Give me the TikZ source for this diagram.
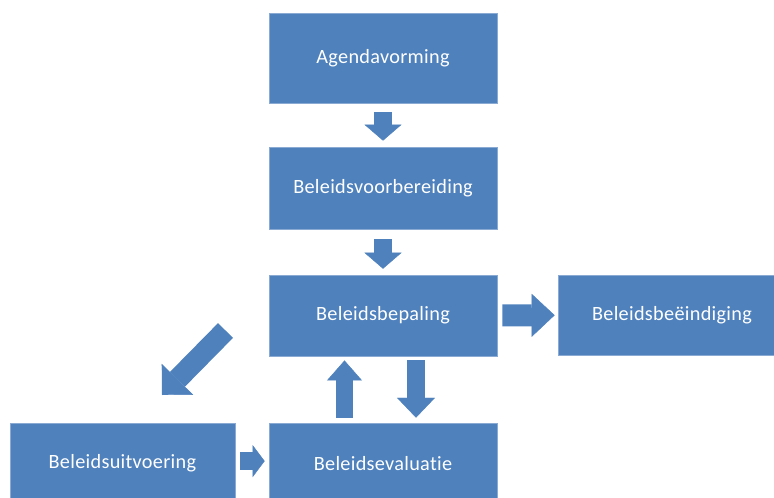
\documentclass[tikz,border=0pt]{standalone}
\usepackage{fontspec}
\setmainfont{Carlito}[LetterSpace=1.5,Ligatures=NoCommon]
\usepackage{tikz}
\usetikzlibrary{arrows.meta,positioning,calc}
\definecolor{oblue}{HTML}{4F81BD}
\definecolor{oedge}{HTML}{8AAAD4}
\tikzset{
  blk/.style={fill=oblue,draw=oedge,line width=0.5pt,minimum width=5.7cm,minimum height=2.05cm,
              align=center,text=white,font=\fontsize{14.4}{17}\selectfont,inner sep=0pt},
  barr/.style={oblue,line width=0.45cm,-{Triangle[length=0.4cm,width=0.925cm,line width=0.3pt]}},
}
\begin{document}
\begin{tikzpicture}
\useasboundingbox (0,0) rectangle (19.35,-12.45);
\clip (0,0) rectangle (19.35,-12.45);
% stages
\node[blk,minimum height=2.25cm] (agenda) at (9.575,-1.45) {Agendavorming};
\node[blk] (voorb) at (9.575,-4.7) {Beleidsvoorbereiding};
\node[blk,minimum height=2.025cm] (bepaling) at (9.575,-7.89) {Beleidsbepaling};
\node[blk,minimum height=2.0cm] (beeind) at (16.8,-7.875) {Beleidsbeëindiging};
\node[blk,minimum height=2.025cm] (evaluatie) at (9.575,-11.59) {Beleidsevaluatie};
\node[blk,minimum width=5.625cm,minimum height=2.025cm] (uitvoering) at (3.06,-11.59) {Beleidsuitvoering};
\coordinate (dfrom) at (5.6375,-8.2625);
\coordinate (dto) at (4.05,-9.875);
% block arrows
\draw[barr,shorten <=0.225cm,shorten >=0.15cm] (agenda) -- (voorb);
\draw[barr,shorten <=0.25cm,shorten >=0.15cm] (voorb) -- (bepaling);
\draw[barr,line width=0.55cm,-{Triangle[length=0.575cm,width=1.075cm,line width=0.3pt]},
  shorten <=0.125cm,shorten >=0.075cm] (bepaling) -- (beeind);
\draw[barr,-{Triangle[length=0.5cm,width=0.95cm,line width=0.3pt]},shorten <=0.1cm,shorten >=0.125cm]
  ([xshift=0.825cm]bepaling.south) -- ([xshift=0.825cm]evaluatie.north);
\draw[barr,line width=0.425cm,-{Triangle[length=0.5cm,width=0.875cm,line width=0.3pt]},shorten <=0.125cm,shorten >=0.1cm]
  ([xshift=-0.9625cm]evaluatie.north) -- ([xshift=-0.9625cm]bepaling.south);
\draw[barr,-{Triangle[length=0.3cm,width=0.8cm,line width=0.3pt]},shorten <=0.125cm,shorten >=0.1cm]
  ([yshift=0.0625cm]uitvoering.east) -- ([yshift=0.0625cm]evaluatie.west);
\draw[barr,line width=0.525cm,-{Triangle[length=0.55cm,width=1.1cm,line width=0.3pt]}] (dfrom) -- (dto);
\end{tikzpicture}
\end{document}
